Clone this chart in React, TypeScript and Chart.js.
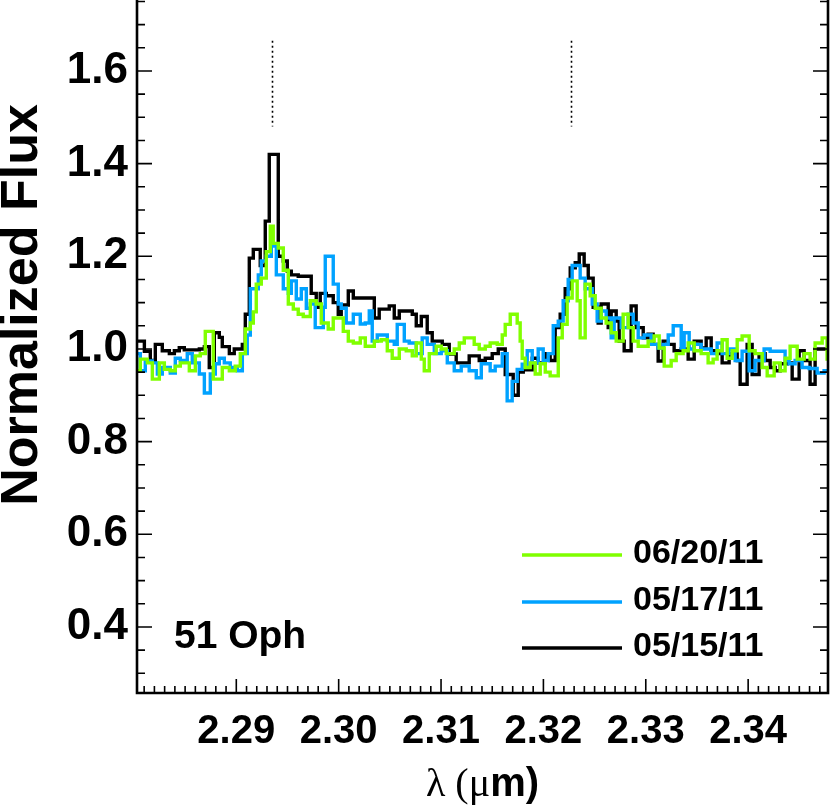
import React, { useEffect, useRef } from 'react';
import { Chart, registerables } from 'chart.js';

Chart.register(...registerables);

// ---------- data ----------
const seriesLabels = ['06/20/11', '05/17/11', '05/15/11'];
const seriesColors = ['#80FF00', '#00A2FF', '#000000'];

const greenWavelength = [2.28033, 2.28062, 2.28131, 2.28180, 2.28248, 2.28297, 2.28355, 2.28404, 2.28453, 2.28541, 2.28600, 2.28648, 2.28697, 2.28775, 2.28863, 2.28932, 2.28990, 2.29039, 2.29088, 2.29137, 2.29166, 2.29195, 2.29244, 2.29293, 2.29332, 2.29361, 2.29410, 2.29459, 2.29508, 2.29557, 2.29605, 2.29654, 2.29723, 2.29781, 2.29830, 2.29898, 2.29947, 2.30045, 2.30094, 2.30143, 2.30211, 2.30260, 2.30348, 2.30416, 2.30475, 2.30523, 2.30592, 2.30660, 2.30719, 2.30758, 2.30807, 2.30836, 2.30885, 2.30953, 2.31002, 2.31051, 2.31129, 2.31178, 2.31227, 2.31324, 2.31373, 2.31432, 2.31480, 2.31549, 2.31598, 2.31627, 2.31676, 2.31744, 2.31773, 2.31793, 2.31822, 2.31871, 2.31920, 2.31969, 2.32018, 2.32066, 2.32145, 2.32184, 2.32232, 2.32281, 2.32330, 2.32359, 2.32408, 2.32457, 2.32506, 2.32564, 2.32613, 2.32662, 2.32711, 2.32779, 2.32828, 2.32877, 2.32926, 2.33023, 2.33082, 2.33131, 2.33180, 2.33248, 2.33297, 2.33365, 2.33414, 2.33473, 2.33541, 2.33609, 2.33658, 2.33697, 2.33746, 2.33795, 2.33844, 2.33893, 2.33941, 2.34010, 2.34068, 2.34137, 2.34186, 2.34254, 2.34313, 2.34361, 2.34410, 2.34479, 2.34547, 2.34605, 2.34654, 2.34723, 2.34771, 2.34791];
const greenFlux = [0.953, 0.978, 0.97, 0.935, 0.97, 0.956, 0.953, 0.963, 0.97, 0.953, 0.985, 0.99, 1.038, 0.935, 0.96, 0.953, 0.963, 0.99, 1.043, 1.056, 1.08, 1.14, 1.153, 1.21, 1.265, 1.228, 1.218, 1.17, 1.097, 1.086, 1.075, 1.07, 1.104, 1.097, 1.056, 1.043, 1.067, 1.038, 1.017, 1.013, 1.024, 1.006, 1.017, 1.02, 0.996, 0.98, 1.0, 0.996, 0.985, 1.013, 0.978, 0.953, 0.99, 1.006, 1.0, 0.99, 1.0, 1.013, 1.024, 1.01, 1.0, 1.006, 1.013, 1.01, 1.03, 1.053, 1.075, 1.056, 1.017, 0.98, 0.96, 0.97, 0.946, 0.968, 0.95, 0.942, 1.024, 1.053, 1.11, 1.147, 1.104, 1.024, 1.14, 1.115, 1.088, 1.067, 1.056, 1.035, 1.017, 1.075, 1.046, 1.017, 1.006, 1.017, 1.028, 1.002, 0.963, 0.975, 0.99, 0.996, 1.013, 0.996, 0.99, 0.97, 0.978, 0.996, 1.02, 0.98, 0.996, 1.02, 1.028, 0.996, 0.99, 0.96, 0.942, 0.97, 0.953, 0.98, 1.006, 0.978, 0.99, 0.978, 1.013, 1.024, 0.978, 0.978];

const blueWavelength = [2.28033, 2.28062, 2.28111, 2.28180, 2.28229, 2.28277, 2.28355, 2.28404, 2.28453, 2.28521, 2.28570, 2.28639, 2.28688, 2.28746, 2.28795, 2.28834, 2.28883, 2.28941, 2.29010, 2.29059, 2.29107, 2.29137, 2.29215, 2.29244, 2.29293, 2.29342, 2.29391, 2.29459, 2.29508, 2.29537, 2.29586, 2.29635, 2.29684, 2.29723, 2.29771, 2.29850, 2.29869, 2.29947, 2.29996, 2.30025, 2.30074, 2.30143, 2.30211, 2.30260, 2.30299, 2.30328, 2.30377, 2.30475, 2.30543, 2.30572, 2.30641, 2.30689, 2.30758, 2.30816, 2.30865, 2.30934, 2.31002, 2.31061, 2.31129, 2.31197, 2.31275, 2.31344, 2.31393, 2.31480, 2.31529, 2.31598, 2.31646, 2.31695, 2.31744, 2.31793, 2.31842, 2.31891, 2.31949, 2.31998, 2.32047, 2.32096, 2.32145, 2.32193, 2.32242, 2.32281, 2.32359, 2.32408, 2.32477, 2.32525, 2.32564, 2.32613, 2.32662, 2.32691, 2.32760, 2.32828, 2.32877, 2.32926, 2.32984, 2.33053, 2.33121, 2.33170, 2.33219, 2.33268, 2.33346, 2.33375, 2.33424, 2.33473, 2.33541, 2.33639, 2.33697, 2.33746, 2.33814, 2.33873, 2.33941, 2.34010, 2.34068, 2.34156, 2.34215, 2.34361, 2.34400, 2.34459, 2.34527, 2.34596, 2.34674, 2.34742, 2.34791];
const blueFlux = [0.99, 0.953, 0.974, 0.97, 0.946, 0.96, 0.948, 0.98, 0.975, 0.99, 0.97, 0.946, 0.905, 0.946, 0.968, 0.98, 0.97, 0.96, 0.953, 0.99, 1.03, 1.13, 1.16, 1.19, 1.2, 1.222, 1.16, 1.13, 1.12, 1.147, 1.108, 1.13, 1.088, 1.097, 1.046, 1.09, 1.2, 1.14, 1.097, 1.088, 1.056, 1.075, 1.054, 1.056, 1.082, 1.017, 1.03, 1.017, 1.01, 1.053, 1.017, 1.013, 0.99, 1.024, 1.01, 0.99, 0.996, 0.97, 0.953, 0.963, 0.953, 0.938, 0.968, 0.953, 0.963, 0.99, 0.888, 0.93, 0.956, 0.967, 0.996, 0.97, 1.0, 0.975, 0.99, 1.05, 1.06, 1.104, 1.15, 1.18, 1.153, 1.13, 1.097, 1.06, 1.082, 1.067, 1.024, 1.067, 1.046, 1.075, 1.056, 1.024, 1.03, 1.01, 1.002, 1.01, 1.03, 1.05, 1.002, 1.035, 1.0, 1.01, 1.0, 0.99, 1.013, 0.99, 1.0, 0.975, 0.995, 0.953, 0.975, 1.0, 0.995, 0.975, 0.968, 0.975, 0.96, 0.958, 0.948, 0.953, 0.953];

const blackWavelength = [2.28033, 2.28102, 2.28160, 2.28209, 2.28277, 2.28346, 2.28395, 2.28443, 2.28492, 2.28639, 2.28688, 2.28736, 2.28785, 2.28834, 2.28863, 2.28932, 2.28980, 2.29059, 2.29088, 2.29127, 2.29166, 2.29234, 2.29283, 2.29322, 2.29410, 2.29459, 2.29498, 2.29537, 2.29605, 2.29732, 2.29781, 2.29820, 2.29879, 2.29947, 2.29996, 2.30025, 2.30094, 2.30143, 2.30299, 2.30348, 2.30396, 2.30494, 2.30543, 2.30592, 2.30719, 2.30758, 2.30807, 2.30865, 2.30914, 2.31012, 2.31080, 2.31148, 2.31275, 2.31373, 2.31432, 2.31500, 2.31559, 2.31627, 2.31705, 2.31754, 2.31803, 2.31891, 2.31949, 2.32018, 2.32066, 2.32115, 2.32164, 2.32213, 2.32262, 2.32311, 2.32350, 2.32398, 2.32438, 2.32486, 2.32535, 2.32564, 2.32633, 2.32662, 2.32711, 2.32740, 2.32789, 2.32857, 2.32906, 2.32975, 2.33023, 2.33072, 2.33121, 2.33170, 2.33219, 2.33277, 2.33346, 2.33414, 2.33473, 2.33541, 2.33590, 2.33639, 2.33697, 2.33746, 2.33814, 2.33893, 2.33922, 2.33990, 2.34039, 2.34107, 2.34166, 2.34215, 2.34264, 2.34313, 2.34381, 2.34430, 2.34498, 2.34547, 2.34605, 2.34654, 2.34752, 2.34791];
const blackFlux = [1.017, 0.995, 0.975, 1.01, 0.996, 0.99, 0.996, 1.003, 0.998, 1.0, 1.005, 0.96, 1.035, 1.025, 1.005, 0.99, 1.0, 1.01, 1.075, 1.196, 1.215, 1.18, 1.276, 1.42, 1.2, 1.19, 1.168, 1.16, 1.157, 1.12, 1.09, 1.12, 1.115, 1.1, 1.075, 1.095, 1.125, 1.11, 1.11, 1.067, 1.086, 1.093, 1.067, 1.082, 1.075, 1.05, 1.07, 1.035, 1.017, 1.01, 0.989, 0.97, 0.985, 0.975, 0.98, 0.99, 1.0, 0.945, 0.90, 0.95, 0.955, 0.98, 0.97, 0.99, 0.975, 1.046, 1.075, 1.13, 1.175, 1.186, 1.205, 1.18, 1.153, 1.09, 1.056, 1.097, 1.046, 1.082, 1.06, 1.017, 0.996, 1.093, 1.046, 1.024, 1.032, 1.01, 0.974, 1.017, 1.01, 0.996, 1.0, 0.978, 1.017, 1.002, 1.024, 0.996, 0.99, 0.97, 0.99, 0.975, 0.924, 1.01, 0.945, 0.99, 0.975, 0.96, 0.953, 0.968, 0.97, 0.935, 0.996, 0.975, 0.924, 1.0, 1.0, 1.0];

const xTickValues = [2.29, 2.30, 2.31, 2.32, 2.33, 2.34];
const yTickValues = [0.4, 0.6, 0.8, 1.0, 1.2, 1.4, 1.6];
const xRange = [2.2803, 2.3478];
const yRange = [0.2575, 1.751];
const xMinorStep = 0.001;
const yMinorStep = 0.05;
const bandheadWavelengths = [2.2935, 2.3227];
const bandheadMarkFlux = [1.48, 1.665];
const starName = '51 Oph';
const yTitle = 'Normalized Flux';

const SANS = "'Liberation Sans', Arial, Helvetica, sans-serif";
const SERIF = "'Liberation Serif', 'Times New Roman', serif";

const decorPlugin = {
  id: 'decor',
  afterDatasetsDraw(chart: any) {
    const { ctx, chartArea: a } = chart;
    const xs = chart.scales.x;
    const ys = chart.scales.y;
    ctx.save();

    // dotted bandhead markers
    ctx.strokeStyle = '#000';
    ctx.lineWidth = 1.6;
    ctx.setLineDash([2, 3]);
    for (const w of bandheadWavelengths) {
      const px = Math.round(xs.getPixelForValue(w)) + 0.5;
      ctx.beginPath();
      ctx.moveTo(px, ys.getPixelForValue(bandheadMarkFlux[1]));
      ctx.lineTo(px, ys.getPixelForValue(bandheadMarkFlux[0]));
      ctx.stroke();
    }
    ctx.setLineDash([]);

    // frame (left, bottom, right)
    ctx.lineWidth = 2.6;
    ctx.strokeStyle = '#000';
    ctx.beginPath();
    ctx.moveTo(a.left, 0);
    ctx.lineTo(a.left, a.bottom);
    ctx.lineTo(a.right, a.bottom);
    ctx.lineTo(a.right, 0);
    ctx.stroke();

    // inward ticks
    ctx.lineWidth = 1.6;
    const kx0 = Math.ceil(xRange[0] / xMinorStep - 1e-6);
    const kx1 = Math.floor(xRange[1] / xMinorStep + 1e-6);
    ctx.beginPath();
    for (let k = kx0; k <= kx1; k++) {
      const px = xs.getPixelForValue(k * xMinorStep);
      const len = k % 10 === 0 ? 14 : 7;
      ctx.moveTo(px, a.bottom);
      ctx.lineTo(px, a.bottom - len);
    }
    const ky0 = Math.ceil(yRange[0] / yMinorStep - 1e-6);
    const ky1 = Math.floor(yRange[1] / yMinorStep + 1e-6);
    for (let k = ky0; k <= ky1; k++) {
      const py = ys.getPixelForValue(k * yMinorStep);
      const len = k % 4 === 0 ? 15 : 8;
      ctx.moveTo(a.left, py);
      ctx.lineTo(a.left + len, py);
      ctx.moveTo(a.right, py);
      ctx.lineTo(a.right - len, py);
    }
    ctx.stroke();

    // legend
    ctx.font = `bold 34px ${SANS}`;
    ctx.textAlign = 'left';
    ctx.textBaseline = 'middle';
    const rowY = [555, 602, 648];
    chart.data.datasets.forEach((ds: any, i: number) => {
      ctx.strokeStyle = ds.borderColor;
      ctx.lineWidth = 3.5;
      ctx.beginPath();
      ctx.moveTo(522, rowY[i]);
      ctx.lineTo(622, rowY[i]);
      ctx.stroke();
      ctx.fillStyle = '#000';
      ctx.fillText(ds.label, 633, rowY[i] - 1);
    });

    // star name
    ctx.font = `bold 39px ${SANS}`;
    ctx.textBaseline = 'alphabetic';
    ctx.fillText(starName, 174, 648);

    // y title
    ctx.save();
    ctx.translate(37, 305);
    ctx.rotate(-Math.PI / 2);
    ctx.font = `bold 52px ${SANS}`;
    ctx.textAlign = 'center';
    ctx.textBaseline = 'alphabetic';
    ctx.fillText(yTitle, 0, 0);
    ctx.restore();

    // x title: λ (μm) with mixed fonts
    const parts = [
      { t: 'λ (μ', f: `40px ${SERIF}` },
      { t: 'm)', f: `bold 40px ${SANS}` },
    ];
    let total = 0;
    for (const p of parts) { ctx.font = p.f; total += ctx.measureText(p.t).width; }
    let cx = (a.left + a.right) / 2 - total / 2;
    ctx.textAlign = 'left';
    for (const p of parts) {
      ctx.font = p.f;
      ctx.fillText(p.t, cx, 796);
      cx += ctx.measureText(p.t).width;
    }

    ctx.restore();
  },
};

export default function App() {
  const ref = useRef<HTMLCanvasElement | null>(null);
  useEffect(() => {
    document.body.style.margin = '0';
    const canvas = ref.current;
    if (!canvas) return;
    const mk = (wl: number[], fl: number[]) => wl.map((x, i) => ({ x, y: fl[i] }));
    const datasets = [
      { label: seriesLabels[0], data: mk(greenWavelength, greenFlux), borderColor: seriesColors[0] },
      { label: seriesLabels[1], data: mk(blueWavelength, blueFlux), borderColor: seriesColors[1] },
      { label: seriesLabels[2], data: mk(blackWavelength, blackFlux), borderColor: seriesColors[2] },
    ].map((d) => ({ ...d, borderWidth: 3.4, pointRadius: 0, stepped: 'before' as const, fill: false, tension: 0 }));

    const chart = new Chart(canvas, {
      type: 'line',
      data: { datasets },
      options: {
        animation: false,
        responsive: false,
        devicePixelRatio: 1,
        layout: { padding: { left: 0, right: 2, top: 1, bottom: 0 } },
        plugins: { legend: { display: false }, tooltip: { enabled: false }, title: { display: false } },
        scales: {
          x: {
            type: 'linear',
            min: xRange[0],
            max: xRange[1],
            grid: { display: false, drawTicks: false },
            border: { display: false },
            afterFit: (s: any) => { s.height = 113; s.paddingLeft = 0; s.paddingRight = 0; },
            afterBuildTicks: (s: any) => { s.ticks = xTickValues.map((v) => ({ value: v })); },
            ticks: {
              autoSkip: false,
              maxRotation: 0,
              padding: 15,
              color: '#000',
              font: { family: SANS, size: 40, weight: 'bold' },
              callback: (v: any) => Number(v).toFixed(2),
            },
          },
          y: {
            type: 'linear',
            min: yRange[0],
            max: yRange[1],
            grid: { display: false, drawTicks: false },
            border: { display: false },
            afterFit: (s: any) => { s.width = 137; s.paddingTop = 0; s.paddingBottom = 0; },
            afterBuildTicks: (s: any) => { s.ticks = yTickValues.map((v) => ({ value: v })); },
            ticks: {
              autoSkip: false,
              padding: 9,
              color: '#000',
              font: { family: SANS, size: 44, weight: 'bold' },
              callback: (v: any) => Number(v).toFixed(1),
            },
          },
        },
      },
      plugins: [decorPlugin],
    });
    return () => chart.destroy();
  }, []);

  return (
    <div style={{ width: 830, height: 806, background: '#fff' }}>
      <canvas ref={ref} width={830} height={806} style={{ display: 'block' }} />
    </div>
  );
}
